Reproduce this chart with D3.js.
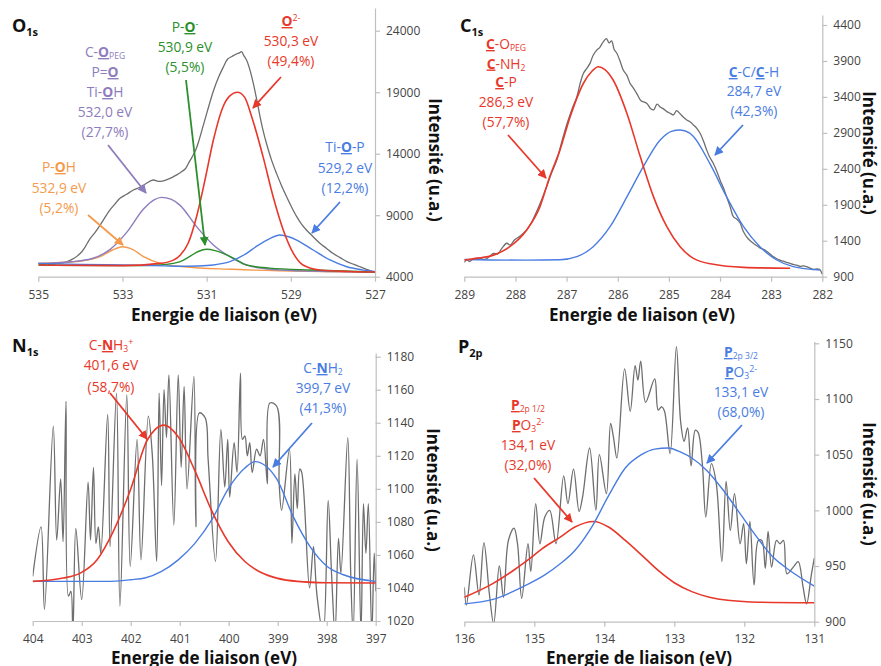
<!DOCTYPE html>
<html><head><meta charset="utf-8">
<script src="https://cdn.jsdelivr.net/npm/d3@7/dist/d3.min.js"></script>
<style>
html,body{margin:0;padding:0;background:#fff;}
svg{display:block;font-family:"Open Sans",sans-serif;}
</style></head><body>
<svg id="chart" width="881" height="666"></svg>
<script>
// ================= DATA =================
// ---- O1s ----
const o1sTicksX = [535, 533, 531, 529, 527];
const o1sTicksY = [4000, 9000, 14000, 19000, 24000];
const o1sSpectrum = [[535.00,5100],[534.90,4980],[534.80,5060],[534.70,4950],[534.55,5080],[534.40,5150],[534.30,5250],[534.15,5500],[534.00,5900],[533.90,6350],[533.77,7100],[533.65,7600],[533.53,8200],[533.40,8900],[533.30,9420],[533.18,9900],[533.06,10370],[532.90,10700],[532.74,11050],[532.60,11250],[532.50,11450],[532.38,11700],[532.27,11860],[532.15,11750],[532.03,11800],[531.90,11950],[531.79,12130],[531.70,12300],[531.63,12450],[531.50,12800],[531.42,13300],[531.35,13700],[531.26,14300],[531.18,15100],[531.08,16300],[530.98,17500],[530.84,19100],[530.72,20200],[530.61,21000],[530.50,21700],[530.40,21900],[530.30,22100],[530.22,22200],[530.17,22300],[530.12,22000],[530.05,21600],[529.97,20800],[529.89,19700],[529.81,18400],[529.73,17000],[529.66,15900],[529.58,14850],[529.46,13500],[529.34,12400],[529.22,11400],[529.10,10500],[528.98,9650],[528.86,8880],[528.75,8300],[528.63,7800],[528.47,7250],[528.31,6720],[528.15,6300],[528.00,5900],[527.83,5550],[527.67,5220],[527.50,5000],[527.36,4810],[527.20,4600],[527.10,4480],[527.00,4400]];
const o1sPOH = [[535,5080],[534.33,5170],[533.93,5300],[533.53,5630],[533.25,6150],[533.0,6440],[532.75,6200],[532.5,5630],[532.1,5080],[531.55,4810],[530.37,4600],[527,4350]];
const o1sCOPEG = [[535,5080],[534.2,5220],[533.7,5500],[533.3,6200],[532.9,7600],[532.5,9500],[532.25,10250],[532.07,10450],[531.85,10300],[531.63,9800],[531.24,8070],[530.84,6580],[530.45,5630],[530.05,4950],[529.6,4650],[529.26,4540],[528,4420],[527,4350]];
const o1sPO = [[535,4950],[533,4900],[532.1,4950],[531.8,5080],[531.63,5220],[531.4,5650],[531.2,6050],[531.0,6230],[530.8,6120],[530.61,5900],[530.33,5450],[530.1,5000],[529.9,4850],[529.5,4700],[528.5,4540],[527,4380]];
const o1sO2 = [[535,4950],[533,4900],[532.11,5080],[531.79,5350],[531.63,5750],[531.44,6720],[531.24,8880],[531.04,11860],[530.84,15110],[530.61,17820],[530.45,18700],[530.27,18990],[530.1,18600],[529.93,17010],[529.66,13760],[529.42,10500],[529.18,7800],[528.94,5900],[528.71,4950],[528.31,4540],[527.6,4420],[527.0,4380]];
const o1sTiOP = [[535,5080],[534,5000],[533,4950],[532,4880],[531.63,4850],[531.2,4870],[530.84,4950],[530.45,5220],[530.05,5900],[529.8,6500],[529.5,7100],[529.26,7390],[529.05,7250],[528.86,6980],[528.47,6170],[528.07,5360],[527.67,4810],[527.3,4550],[527.0,4400]];
const o1sNotePurple = [[["C-"],["O","u"],["PEG","sub"]],[["P="],["O","u"]],[["Ti-"],["O","u"],["H"]],[["532,0 eV"]],[["(27,7%)"]]];
const o1sNoteOrange = [[["P-"],["O","u"],["H"]],[["532,9 eV"]],[["(5,2%)"]]];
const o1sNoteGreen = [[["P-"],["O","u"],["-","sup"]],[["530,9 eV"]],[["(5,5%)"]]];
const o1sNoteRed = [[["O","u"],["2-","sup"]],[["530,3 eV"]],[["(49,4%)"]]];
const o1sNoteBlue = [[["Ti-"],["O","u"],["-P"]],[["529,2 eV"]],[["(12,2%)"]]];

// ---- C1s ----
const c1sTicksX = [289, 288, 287, 286, 285, 284, 283, 282];
const c1sTicksY = [900, 1400, 1900, 2400, 2900, 3400, 3900, 4400];
const c1sSpectrum = [[289.00,1100],[288.95,1135],[288.90,1110],[288.82,1150],[288.70,1155],[288.60,1140],[288.50,1185],[288.43,1225],[288.35,1215],[288.27,1290],[288.17,1365],[288.10,1340],[288.02,1410],[287.90,1470],[287.78,1550],[287.68,1660],[287.59,1800],[287.50,1950],[287.39,2150],[287.30,2330],[287.19,2525],[287.10,2760],[286.99,3030],[286.90,3220],[286.80,3400],[286.73,3600],[286.67,3730],[286.60,3800],[286.54,3870],[286.48,3980],[286.41,4050],[286.35,4090],[286.28,4170],[286.22,4210],[286.17,4150],[286.12,4180],[286.07,4060],[286.02,4010],[285.95,3890],[285.89,3770],[285.82,3700],[285.76,3590],[285.70,3530],[285.63,3450],[285.55,3350],[285.49,3330],[285.43,3310],[285.36,3240],[285.30,3220],[285.23,3300],[285.17,3260],[285.10,3230],[285.04,3195],[284.97,3170],[284.91,3150],[284.85,3210],[284.78,3165],[284.72,3120],[284.65,3080],[284.58,3050],[284.52,3010],[284.45,2960],[284.39,2895],[284.32,2780],[284.26,2660],[284.20,2560],[284.13,2475],[284.06,2360],[284.00,2245],[283.93,2130],[283.87,2010],[283.80,1870],[283.74,1735],[283.67,1700],[283.61,1650],[283.55,1540],[283.48,1455],[283.41,1400],[283.35,1365],[283.28,1330],[283.22,1300],[283.15,1280],[283.09,1255],[283.02,1215],[282.96,1180],[282.89,1150],[282.83,1130],[282.76,1115],[282.70,1100],[282.63,1085],[282.57,1070],[282.50,1060],[282.44,1045],[282.37,1050],[282.31,1040],[282.24,1020],[282.18,1000],[282.10,1010],[282.05,1000],[282.00,935]];
const c1sCO = [[289,1132],[288.76,1155],[288.43,1200],[288.11,1317],[287.78,1550],[287.52,1875],[287.33,2290],[287.13,2660],[286.93,3125],[286.67,3590],[286.5,3760],[286.38,3820],[286.25,3780],[286.09,3635],[285.82,3170],[285.56,2570],[285.30,2010],[285.04,1595],[284.78,1317],[284.52,1155],[284.13,1072],[283.54,1030],[282.63,1017]];
const c1sCC = [[289,1140],[287.78,1130],[287.13,1135],[286.8,1178],[286.48,1317],[286.15,1595],[285.82,2010],[285.5,2430],[285.17,2800],[284.95,2920],[284.78,2940],[284.6,2900],[284.52,2850],[284.2,2475],[283.87,2010],[283.54,1595],[283.22,1317],[282.89,1132],[282.57,1040],[282.05,993]];
const c1sNoteRed = [[["C","u"],["-O"],["PEG","sub"]],[["C","u"],["-NH"],["2","sub"]],[["C","u"],["-P"]],[["286,3 eV"]],[["(57,7%)"]]];
const c1sNoteBlue = [[["C","u"],["-C/"],["C","u"],["-H"]],[["284,7 eV"]],[["(42,3%)"]]];

// ---- N1s ----
const n1sTicksX = [404, 403, 402, 401, 400, 399, 398, 397];
const n1sTicksY = [1020, 1040, 1060, 1080, 1100, 1120, 1140, 1160, 1180];
const n1sSpectrum = [[404.00,1047],[403.83,1077],[403.76,1027],[403.58,1138],[403.51,1069],[403.43,1106],[403.38,1068],[403.32,1153],[403.27,1035],[403.22,1038],[403.18,1012],[403.12,1076],[403.00,1033],[402.87,1104],[402.82,1069],[402.76,1113],[402.71,1067],[402.66,1077],[402.61,1061],[402.47,1145],[402.42,1065],[402.29,1158],[402.22,1029],[402.08,1157],[402.01,1053],[401.87,1130],[401.79,1057],[401.64,1144],[401.56,1121],[401.47,1056],[401.42,1158],[401.37,1102],[401.32,1160],[401.27,1131],[401.22,1169],[401.12,1078],[401.03,1169],[400.97,1113],[400.91,1162],[400.85,1100],[400.71,1168],[400.67,1077],[400.60,1146],[400.48,1143],[400.42,1118],[400.27,1056],[400.16,1136],[400.08,1101],[400.02,1130],[399.98,1095],[399.89,1128],[399.83,1110],[399.76,1170],[399.72,1130],[399.67,1132],[399.62,1120],[399.57,1128],[399.52,1110],[399.43,1124],[399.36,1120],[399.29,1130],[399.21,1103],[399.16,1152],[399.02,1150],[398.97,1103],[398.92,1087],[398.76,1124],[398.71,1067],[398.65,1109],[398.60,1088],[398.55,1112],[398.51,1110],[398.35,1040],[398.27,1065],[398.20,1036],[398.07,1012],[397.97,1093],[397.90,1048],[397.83,1012],[397.76,1070],[397.71,1049],[397.57,1131],[397.51,1049],[397.46,1012],[397.38,1118],[397.30,1012],[397.25,1091],[397.20,1061],[397.15,1091],[397.08,1012],[397.03,1061],[397.00,1038]];
const n1sNH3 = [[404,1044],[403.38,1046],[403.03,1049],[402.69,1057],[402.36,1074],[402.01,1099],[401.67,1129],[401.5,1136],[401.32,1138.6],[401.03,1131.5],[400.69,1111],[400.35,1087],[400.01,1068],[399.67,1056],[399.35,1049.5],[399.0,1045.8],[398.6,1044],[398.0,1043.2],[397,1043]];
const n1sNH2 = [[404,1044],[402.5,1044],[402,1045],[401.71,1046],[401.37,1050],[401.03,1057],[400.69,1067],[400.35,1081],[400.01,1100],[399.67,1112.6],[399.46,1116.5],[399.25,1114],[399.02,1106],[398.68,1083],[398.34,1065],[397.99,1053],[397.66,1048],[397,1044]];
const n1sNoteRed = [[["C-"],["N","u"],["H"],["3","sub"],["+","sup"]],[["401,6 eV"]],[["(58,7%)"]]];
const n1sNoteBlue = [[["C-"],["N","u"],["H"],["2","sub"]],[["399,7 eV"]],[["(41,3%)"]]];

// ---- P2p ----
const p2pTicksX = [136, 135, 134, 133, 132, 131];
const p2pTicksY = [900, 950, 1000, 1050, 1100, 1150];
const p2pSpectrum = [[136.00,931],[135.97,915],[135.87,960],[135.79,924],[135.72,971],[135.64,924],[135.58,898],[135.50,950],[135.44,922],[135.37,973],[135.29,984],[135.24,970],[135.18,921],[135.09,970],[135.05,945],[134.98,1006],[134.92,970],[134.85,994],[134.78,1000],[134.69,970],[134.58,1031],[134.52,1006],[134.44,1037],[134.36,999],[134.31,1012],[134.21,1056],[134.12,1000],[134.07,1050],[133.97,1015],[133.91,1078],[133.87,1066],[133.82,1047],[133.71,1127],[133.63,1089],[133.56,1130],[133.52,1117],[133.48,1134],[133.41,1097],[133.28,1118],[133.23,1090],[133.18,1093],[133.14,1089],[133.06,1051],[132.97,1147],[132.91,1080],[132.86,1062],[132.81,1074],[132.76,1040],[132.70,1072],[132.66,1070],[132.60,1042],[132.55,994],[132.47,1042],[132.40,1024],[132.32,954],[132.26,1026],[132.20,982],[132.14,1015],[132.06,970],[132.01,988],[131.97,952],[131.92,990],[131.86,933],[131.80,973],[131.75,973],[131.70,948],[131.66,981],[131.61,949],[131.54,973],[131.49,970],[131.44,973],[131.39,943],[131.30,949],[131.23,954],[131.16,931],[131.11,916],[131.04,943],[131.00,957]];
const p2pHalf = [[136,922],[135.6,934],[135.3,946],[135.1,955],[134.9,965],[134.63,976],[134.42,985],[134.15,990],[133.94,985],[133.7,973],[133.47,960],[133.23,946],[133.0,935],[132.75,927],[132.5,922],[132.2,919],[131.8,917.5],[131,917]];
const p2pThreeHalf = [[136,916],[135.59,920],[135.11,933],[134.85,942],[134.63,952],[134.42,964],[134.18,985],[133.94,1013],[133.7,1038],[133.47,1050],[133.28,1055],[133.09,1056],[132.9,1052],[132.75,1047],[132.54,1036],[132.3,1018],[132.06,997],[131.82,976],[131.59,958],[131.35,946],[131.0,932]];
const p2pNoteRed = [[["P","u"],["2p 1/2","sub"]],[["P","u"],["O"],["3","sub"],["2-","sup"]],[["134,1 eV"]],[["(32,0%)"]]];
const p2pNoteBlue = [[["P","u"],["2p 3/2","sub"]],[["P","u"],["O"],["3","sub"],["2-","sup"]],[["133,1 eV"]],[["(68,0%)"]]];

const xTitleText = "Energie de liaison (eV)";
const yTitleText = "Intensité (u.a.)";

// ================= STYLE / LAYOUT =================
const C = {gray:"#6e6e6e", red:"#e8382b", blue:"#4a7de2", purple:"#8e7dbd", orange:"#f59a4c", green:"#2b8f2b", axis:"#bfbfbf", tick:"#444"};
const NOTE_SIZE = 13.8;

const panels = [
  {xDomain:[535,527], xRange:[38.3,375], yDomain:[4000,24000], yRange:[276.7,30.7], axisTop:8, tickPad:9,
   xTicks:o1sTicksX, yTicks:o1sTicksY, tag:["O","1s"], tagPos:[12,32], xTitlePos:[224,321], yTitlePos:[435,160],
   lines:[[o1sSpectrum,C.gray,1.3,true],[o1sPOH,C.orange,1.4],[o1sCOPEG,C.purple,1.4],[o1sPO,C.green,1.4],[o1sTiOP,C.blue,1.4],[o1sO2,C.red,1.6]],
   notes:[
     {lines:o1sNotePurple,color:C.purple,x:105,ys:[52,72,92,112,132],arrow:[108,145,146,193]},
     {lines:o1sNoteOrange,color:C.orange,x:59,ys:[167,188,208],arrow:[88,215,123,245]},
     {lines:o1sNoteGreen,color:C.green,x:185,ys:[27,47,67],arrow:[186,80,205,245]},
     {lines:o1sNoteRed,color:C.red,x:291,ys:[21,41,61],arrow:[281,77,253,108]},
     {lines:o1sNoteBlue,color:C.blue,x:345,ys:[147,168,188],arrow:[340,202,312,233]}]},
  {xDomain:[289,282], xRange:[464.3,822.3], yDomain:[900,4400], yRange:[276.7,25], axisTop:15, tickPad:9,
   xTicks:c1sTicksX, yTicks:c1sTicksY, tag:["C","1s"], tagPos:[460,32], xTitlePos:[642,321], yTitlePos:[869,153],
   lines:[[c1sSpectrum,C.gray,1.3,true],[c1sCC,C.blue,1.4],[c1sCO,C.red,1.6]],
   notes:[
     {lines:c1sNoteRed,color:C.red,x:506,ys:[44,63.5,82,102,122],arrow:[508,135,546,178]},
     {lines:c1sNoteBlue,color:C.blue,x:754,ys:[72,91,111],arrow:[743,125,715,155]}]},
  {xDomain:[404,397], xRange:[32.7,375.7], yDomain:[1020,1180], yRange:[621,356.7], axisTop:353, tickPad:8,
   xTicks:n1sTicksX, yTicks:n1sTicksY, tag:["N","1s"], tagPos:[12,352], xTitlePos:[204,664], yTitlePos:[433,490],
   lines:[[n1sSpectrum,C.gray,1.3,true],[n1sNH2,C.blue,1.4],[n1sNH3,C.red,1.6]],
   notes:[
     {lines:n1sNoteRed,color:C.red,x:111,ys:[345,365,387],arrow:[110,393,147,439]},
     {lines:n1sNoteBlue,color:C.blue,x:323,ys:[368,388,408],arrow:[312,423,273,467]}]},
  {xDomain:[136,131], xRange:[464.3,814.3], yDomain:[900,1150], yRange:[621.7,343.3], axisTop:341.5, tickPad:8,
   xTicks:p2pTicksX, yTicks:p2pTicksY, tag:["P","2p"], tagPos:[458,353], xTitlePos:[639,664], yTitlePos:[869,484],
   lines:[[p2pSpectrum,C.gray,1.3,true],[p2pHalf,C.red,1.6],[p2pThreeHalf,C.blue,1.4]],
   notes:[
     {lines:p2pNoteRed,color:C.red,x:528,ys:[405,425,445,465],arrow:[534,478,572,522]},
     {lines:p2pNoteBlue,color:C.blue,x:741,ys:[352,372,392,412],arrow:[742,425,707,463]}]}
];

// ================= DRAW =================
const svg = d3.select("#chart");
const defs = svg.append("defs");
const markerIds = {};
function marker(color){
  if (markerIds[color]) return markerIds[color];
  const id = "arr" + Object.keys(markerIds).length;
  defs.append("marker").attr("id", id).attr("markerUnits","userSpaceOnUse")
    .attr("viewBox","0 0 10 10").attr("refX",9).attr("refY",5)
    .attr("markerWidth",9).attr("markerHeight",9).attr("orient","auto")
    .append("path").attr("d","M0,0 L10,5 L0,10 Z").attr("fill",color);
  markerIds[color] = id; return id;
}

function richLine(g, parts, x, y, color, size){
  const t = g.append("text").attr("x",x).attr("y",y).attr("text-anchor","middle")
    .attr("fill",color).style("font-size",size+"px");
  let shift = 0;
  parts.forEach(p => {
    const [txt, kind] = p;
    let target = 0, fs = size;
    if (kind === "sub"){ target = size*0.18; fs = size*0.62; }
    if (kind === "sup"){ target = -size*0.33; fs = size*0.64; }
    const ts = t.append("tspan").text(txt).style("font-size",fs+"px");
    if (target - shift !== 0) ts.attr("dy", target - shift);
    shift = target;
    if (kind === "u") ts.style("font-weight","700").style("text-decoration","underline");
  });
}

panels.forEach((p, i) => {
  const g = svg.append("g");
  const x = d3.scaleLinear().domain(p.xDomain).range(p.xRange);
  const y = d3.scaleLinear().domain(p.yDomain).range(p.yRange);
  const yAxisScale = y.copy().domain([p.yDomain[0], y.invert(p.axisTop)]).range([p.yRange[0], p.axisTop]);

  const cid = "clip" + i;
  defs.append("clipPath").attr("id",cid).append("rect")
    .attr("x", p.xRange[0]).attr("y", p.axisTop)
    .attr("width", p.xRange[1]-p.xRange[0]).attr("height", p.yRange[0]-p.axisTop);

  const xa = g.append("g").attr("transform",`translate(0,${p.yRange[0]})`)
    .call(d3.axisBottom(x).tickValues(p.xTicks).tickFormat(d3.format("d")).tickSize(5).tickSizeOuter(0).tickPadding(p.tickPad));
  const ya = g.append("g").attr("transform",`translate(${p.xRange[1]},0)`)
    .call(d3.axisRight(yAxisScale).tickValues(p.yTicks).tickFormat(d3.format("d")).tickSize(5).tickSizeOuter(0).tickPadding(6));
  [xa, ya].forEach(a => {
    a.select(".domain").attr("stroke",C.axis).attr("stroke-width",1.2);
    a.selectAll(".tick line").attr("stroke",C.axis).attr("stroke-width",1.2);
    a.selectAll(".tick text").attr("fill",C.tick).style("font-size","12px").style("font-family","'Open Sans',sans-serif");
  });

  const plot = g.append("g").attr("clip-path",`url(#${cid})`);
  p.lines.forEach(([data, color, w, noisy]) => {
    const gen = d3.line().x(d => x(d[0])).y(d => y(d[1]))
      .curve(noisy ? d3.curveCatmullRom.alpha(0.5) : d3.curveMonotoneX);
    plot.append("path").datum(data).attr("d", gen).attr("fill","none")
      .attr("stroke", color).attr("stroke-width", w).attr("stroke-linejoin","round");
  });

  p.notes.forEach(n => {
    n.lines.forEach((ln, k) => richLine(g, ln, n.x, n.ys[k] + 5, n.color, NOTE_SIZE));
    const [x1,y1,x2,y2] = n.arrow;
    g.append("line").attr("x1",x1).attr("y1",y1).attr("x2",x2).attr("y2",y2)
      .attr("stroke",n.color).attr("stroke-width",1.8).attr("marker-end",`url(#${marker(n.color)})`);
  });

  const tg = g.append("text").attr("x",p.tagPos[0]).attr("y",p.tagPos[1]).attr("fill","#111")
    .style("font-weight","700").style("font-size","18px");
  tg.append("tspan").text(p.tag[0]);
  tg.append("tspan").text(p.tag[1]).attr("dy",4).style("font-size","11px");

  g.append("text").attr("x",p.xTitlePos[0]).attr("y",p.xTitlePos[1]).attr("text-anchor","middle")
    .attr("fill","#111").style("font-weight","700").style("font-size","17px").text(xTitleText);
  g.append("text").attr("transform",`translate(${p.yTitlePos[0]},${p.yTitlePos[1]}) rotate(90)`)
    .attr("text-anchor","middle").attr("dy","0.35em")
    .attr("fill","#111").style("font-weight","700").style("font-size","17px").text(yTitleText);
});
</script>
</body></html>
